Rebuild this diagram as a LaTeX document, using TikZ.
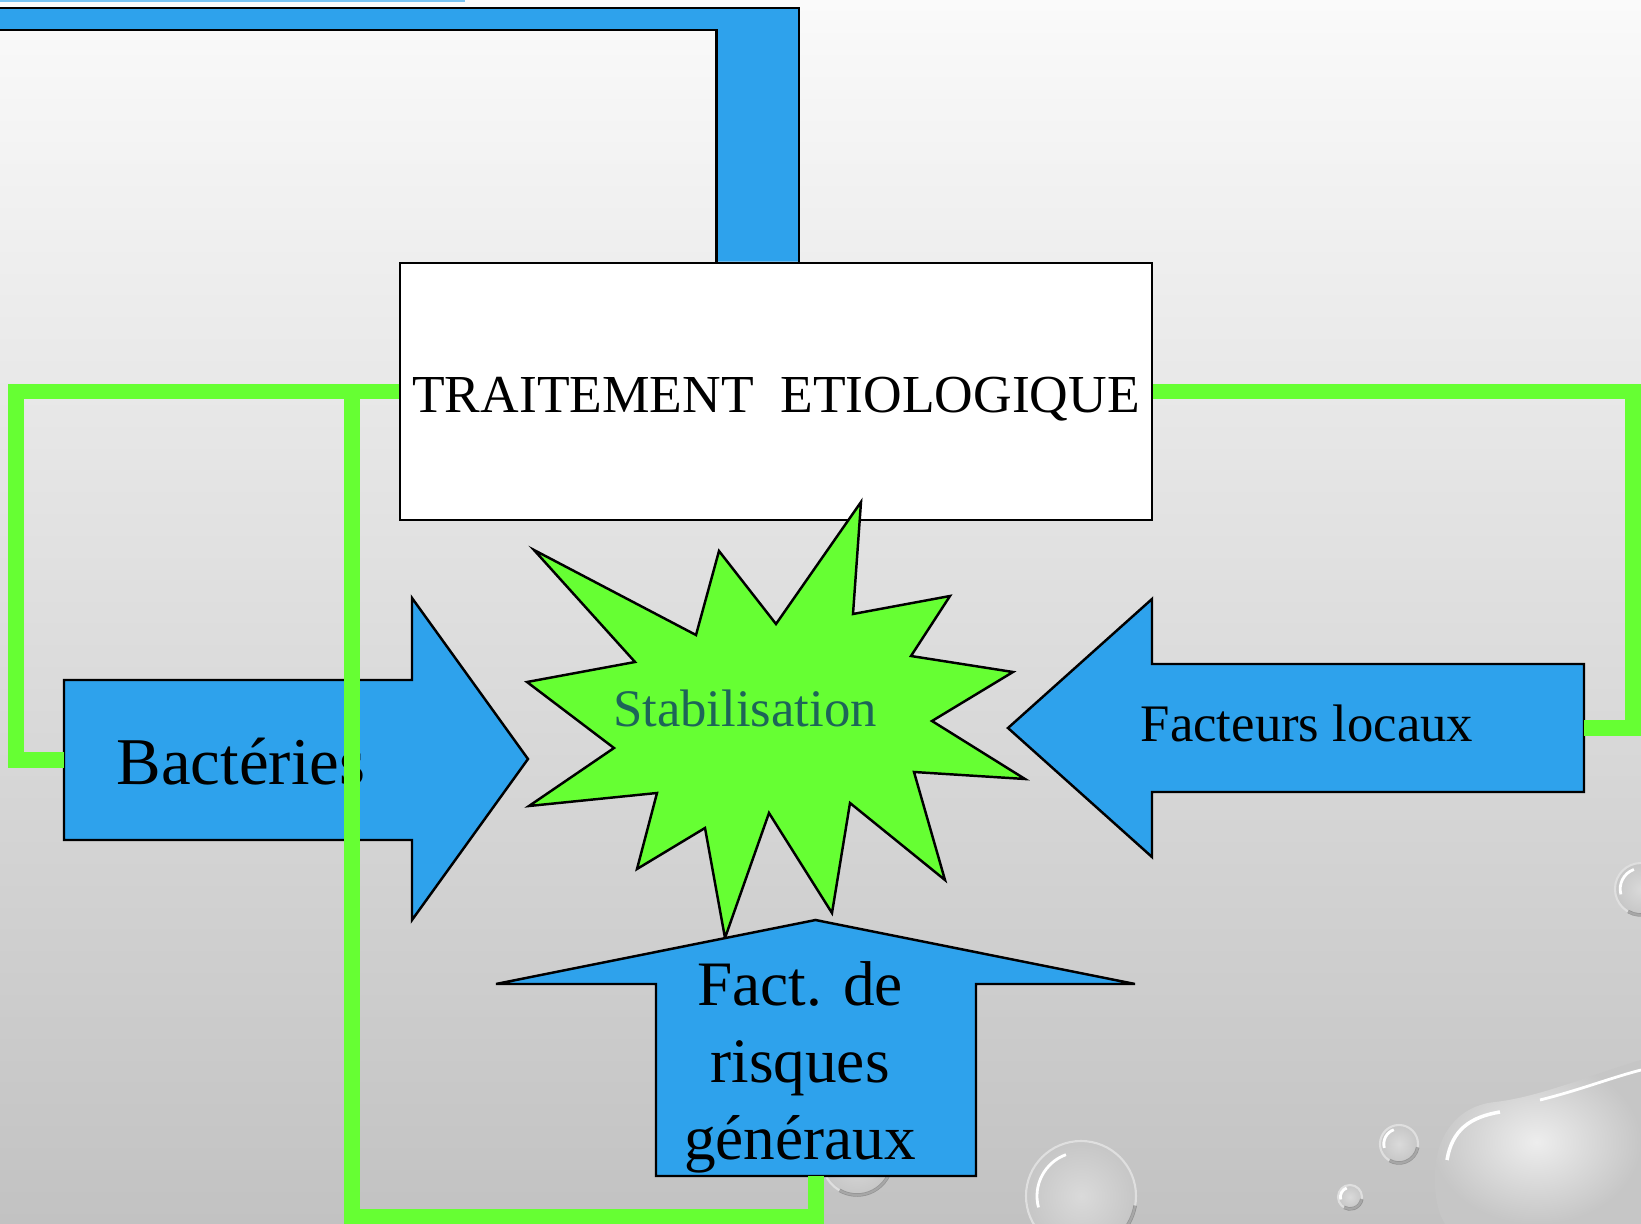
\documentclass[tikz,border=0pt]{standalone}
\usepackage{fontspec}
\setmainfont{Liberation Serif}
\definecolor{ciel}{HTML}{2EA2EC}
\definecolor{vif}{HTML}{66FF33}
\definecolor{sarcelle}{HTML}{1D6558}
\definecolor{fondhaut}{HTML}{FAFAFA}
\definecolor{fondmilieu}{HTML}{E2E2E2}
\definecolor{fondbas}{HTML}{C2C2C2}
\definecolor{gouttein}{HTML}{DADADA}
\definecolor{goutteout}{HTML}{C6C6C6}
\usetikzlibrary{calc, positioning}

\tikzset{
  fleche/.style={fill=ciel, draw=black, line width=0.7pt, line join=miter},
  lien/.style={draw=vif, line width=4.3pt},
  texte/.style={inner sep=0pt, anchor=base},
  goutte/.style={inner color=gouttein, outer color=goutteout, draw=white!75!gray, line width=0.6pt}
}

\begin{document}
\begin{tikzpicture}[x=0.01cm, y=-0.01cm]
\useasboundingbox (0,0) rectangle (1641,1224);
\clip (0,0) rectangle (1641,1224);

% Fond degrade gris
\shade[top color=fondhaut, middle color=fondmilieu, bottom color=fondbas] (0,0) rectangle (1641,1224);

% Gouttes d'eau (coin bas droit)
\shade[inner color=white!86!gray, outer color=goutteout] (1641,1060) .. controls (1590,1075) and (1540,1097) .. (1495,1102)
  .. controls (1455,1106) and (1432,1140) .. (1435,1185)
  .. controls (1436,1205) and (1440,1216) .. (1445,1224) -- (1641,1224) -- cycle;
\draw[white, line width=1pt] (1447,1160) .. controls (1452,1130) and (1470,1117) .. (1500,1112);
\draw[white, line width=0.8pt] (1540,1100) .. controls (1580,1090) and (1610,1078) .. (1641,1070);
\foreach \cx/\cy/\r in {1081/1196/55, 1399/1144/19, 1350/1197/12, 1641/889/26, 857/1160/35} {
  \shade[goutte] (\cx,\cy) circle (\r);
  \draw[white, line width=0.8pt] (\cx,\cy) ++(165:{0.8*\r}) arc[start angle=165, end angle=250, radius={0.8*\r}];
  \draw[black, opacity=0.25, line width=1pt] (\cx,\cy) ++(10:\r) arc[start angle=10, end angle=120, radius=\r];
}

% Filet bleu clair en haut
\draw[ciel!65, line width=0.6pt] (0,1) -- (465,1);

% Cadre du traitement
\node[draw=black, line width=0.7pt, fill=white, inner sep=0pt, minimum width=7.52cm, minimum height=2.57cm,
      text height=12.2pt, text depth=0pt, font={\fontsize{15.2}{18}\selectfont}]
      (trait) at (776,391.5) {TRAITEMENT\ \ ETIOLOGIQUE};

% Bande bleue vers le haut
\draw[fleche] (trait.north -| 716.5,0) -- (716.5,30) -- (-10,30) -- (-10,8) -- (799,8) -- (trait.north -| 799,0);

% Etoile centrale
\draw[fill=vif, draw=black, line width=0.7pt] (861,502) -- (853,614) -- (950,596) -- (911,656) -- (1013,672)
  -- (932,721) -- (1025,779) -- (914,772) -- (945,880) -- (850,803) -- (832,913) -- (769,813)
  -- (725,938) -- (705,828) -- (637,869) -- (657,793) -- (529,806) -- (614,748) -- (527,682)
  -- (635,662) -- (534,550) -- (696,635) -- (719,551) -- (776,624) -- cycle;
\node[texte, text=sarcelle, font={\fontsize{15}{18}\selectfont}] (stab) at (745,726) {Stabilisation};

% Fleche Bacteries
\draw[fleche] (64,680) -- (412,680) -- (412,598) -- (528,759) -- (412,920) -- (412,840) -- (64,840) -- cycle;
\coordinate (bact) at (64,760);
\node[texte, anchor=base west, font={\fontsize{19}{23}\selectfont}] (bacttxt) at (116,784) {Bactéries};

% Fleche Facteurs locaux
\draw[fleche] (1584,664) -- (1152,664) -- (1152,599) -- (1008,728) -- (1152,857) -- (1152,792) -- (1584,792) -- cycle;
\coordinate (locaux) at (1584,728);
\node[texte, font={\fontsize{15}{18}\selectfont}] (loctxt) at (1307,741) {Facteurs locaux};

% Fleche Facteurs de risques generaux
\draw[fleche] (656,1176) -- (656,984) -- (496,984) -- (815.5,920) -- (1135,984) -- (976,984) -- (976,1176) -- cycle;
\coordinate (risques) at (816,1176);
\node[texte, align=center, font={\fontsize{18}{21.8}\selectfont}] (risqtxt) at (800,1159) {Fact. de\\risques\\généraux};

% Liens verts
\draw[lien] (trait.west) -| (16,760) -- (bact);
\draw[lien] (trait.west) -| (352,1217) -| (risques);
\draw[lien] (trait.east) -| (1633,728) -- (locaux);
\end{tikzpicture}
\end{document}
